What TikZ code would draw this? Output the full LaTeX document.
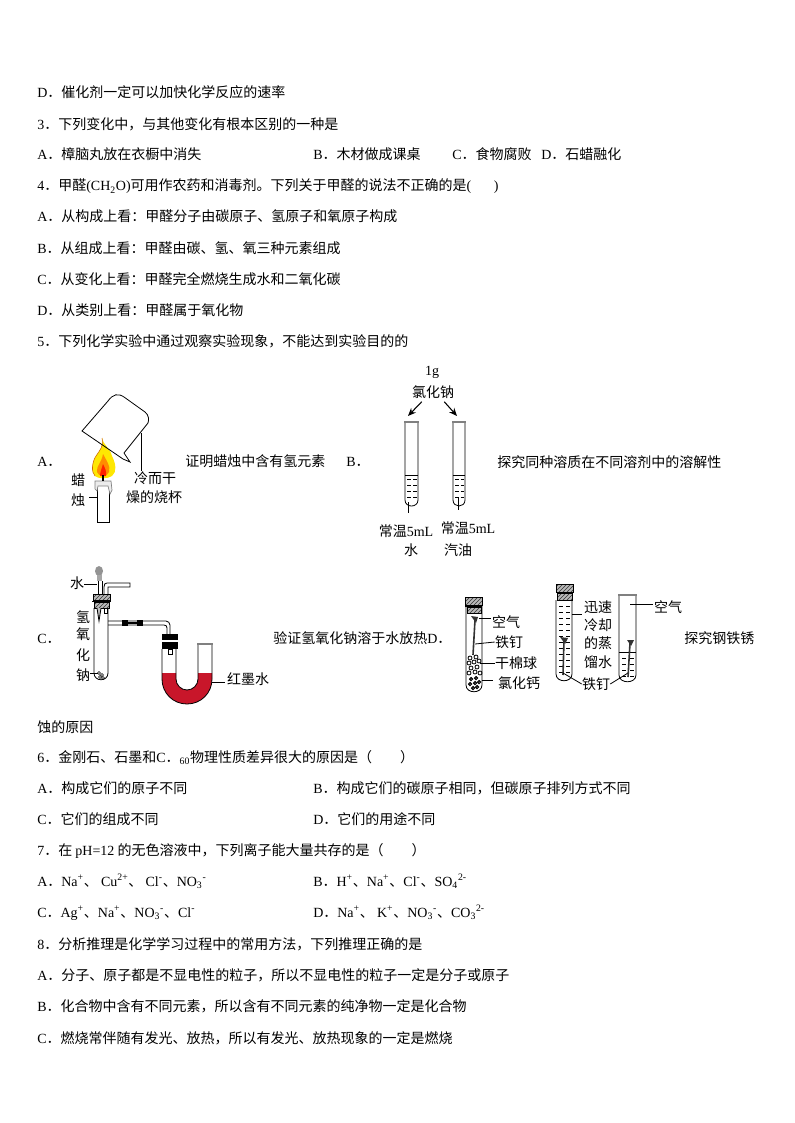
\documentclass[tikz,border=0pt]{standalone}
\usepackage{fontspec}
\setmainfont{Noto Sans CJK SC}
\newfontfamily\latn{Liberation Serif}
\newcommand{\Lt}[1]{{\latn #1}}
\newcommand{\Up}[1]{\textsuperscript{\latn #1}}
\newcommand{\Dn}[1]{\textsubscript{\latn #1}}
\usetikzlibrary{patterns,arrows.meta}
\definecolor{inkred}{RGB}{200,22,42}
\tikzset{
  txtrow/.style={anchor=base west,inner sep=0pt},
  lbl/.style={inner sep=0pt},
  lead/.style={line width=.6pt},
  glass/.style={line width=.6pt},
  rim/.style={line width=1.4pt,gray},
  plug/.style={draw=black,line width=.4pt,preaction={fill=gray!55},pattern=north east lines,pattern color=black!80},
  nail/.style={line width=1.2pt,black!80},
  waterline/.style={line width=.5pt},
  drop/.style={-{Stealth[length=6pt,width=5pt]},line width=.8pt}
}
\begin{document}
\begin{tikzpicture}[x=0.75pt,y=-0.75pt,font=\fontsize{10.5pt}{12pt}\selectfont]
\useasboundingbox (0,0) rectangle (794,1123);
% upper text
\node[txtrow] (q2d) at (37,97.5) {\Lt{D}．催化剂一定可以加快化学反应的速率};
\node[txtrow] (q3) at (37,129.5) {\Lt{3}．下列变化中，与其他变化有根本区别的一种是};
\node[txtrow] (q3a) at (37,160) {\Lt{A}．樟脑丸放在衣橱中消失};
\node[txtrow] (q3b) at (313,160) {\Lt{B}．木材做成课桌};
\node[txtrow] (q3c) at (452,160) {\Lt{C}．食物腐败};
\node[txtrow] (q3d) at (541,160) {\Lt{D}．石蜡融化};
\node[txtrow] (q4) at (37,191) {\Lt{4}．甲醛\Lt{(CH\Dn{2}O)}可用作农药和消毒剂。下列关于甲醛的说法不正确的是\Lt{(\hspace{1.6em})}};
\node[txtrow] (q4a) at (37,222) {\Lt{A}．从构成上看：甲醛分子由碳原子、氢原子和氧原子构成};
\node[txtrow] (q4b) at (37,253) {\Lt{B}．从组成上看：甲醛由碳、氢、氧三种元素组成};
\node[txtrow] (q4c) at (37,284) {\Lt{C}．从变化上看：甲醛完全燃烧生成水和二氧化碳};
\node[txtrow] (q4d) at (37,315) {\Lt{D}．从类别上看：甲醛属于氧化物};
\node[txtrow] (q5) at (37,346) {\Lt{5}．下列化学实验中通过观察实验现象，不能达到实验目的的};
% option A
\node[txtrow] (optA) at (37,466) {\Lt{A}．};
\node[txtrow] (txtA) at (185,466) {证明蜡烛中含有氢元素};
\fill[yellow!90!orange] (102,438) .. controls (104,446) and (110,448) .. (112,456) .. controls (116,464) and (117,472) .. (112,476) .. controls (108,479) and (98,479) .. (95,476)
  .. controls (91,472) and (92,462) .. (96,456) .. controls (100,450) and (104,446) .. (102,438);
\draw[line width=.4pt,orange!80!black] (95,476) .. controls (91,472) and (92,462) .. (96,456) .. controls (100,450) and (104,446) .. (102,438);
\fill[orange!90!yellow] (103,454) .. controls (106,460) and (111,466) .. (109,472) .. controls (108,477) and (98,477) .. (97,472) .. controls (96,466) and (102,462) .. (103,454);
\fill[red!75!orange] (103,464) .. controls (105,468) and (107,472) .. (106,476) -- (100,476) .. controls (100,472) and (102,468) .. (103,464);
\draw[glass] (82,431) -- (108,401) .. controls (113,394) and (118,393) .. (124,397)
  -- (145,412) .. controls (149,415) and (149,420) .. (148,423) -- (124,453) -- (130,462) -- (123,459) -- cycle;
\draw[glass,fill=white] (97,482) rectangle (109,522);
\draw[line width=.5pt,gray,fill=gray!15] (95,481) -- (111,481) -- (112,490) -- (110,494) -- (108,486) -- (98,486) -- (97,491) -- (95,489) -- cycle;
\draw[line width=1pt] (103,475) -- (103,481);
\coordinate (cupPt) at (141,433);
\node[lbl] (candleA) at (78,480) {蜡};
\node[lbl] (candleB) at (78,500) {烛};
\coordinate (candlePt) at (98,497);
\draw[lead] (candleB.east) ++(4,-3) coordinate (candleStart) (candleStart) -- (candlePt);
\node[lbl] (cupA) at (155,478) {冷而干};
\node[lbl] (cupB) at (154,497) {燥的烧杯};
\draw[lead] (cupPt) -- (cupA.north -| cupPt);
% option B
\node[txtrow] (optB) at (346,466) {\Lt{B}．};
\node[txtrow] (txtB) at (497,467) {探究同种溶质在不同溶剂中的溶解性};
\node[lbl] (gram) at (432,372) {\Lt{1g}};
\node[lbl] (salt) at (433,392) {氯化钠};
\coordinate (tubeLtop) at (408,416);
\coordinate (tubeRtop) at (457,416);
\draw[drop] (salt.south west) ++(10,3) -- (tubeLtop);
\draw[drop] (salt.south east) ++(-10,3) -- (tubeRtop);
\draw[glass] (405,422) -- (405,500) .. controls (405,508) and (418,508) .. (418,500) -- (418,422);
\draw[glass] (453,422) -- (453,500) .. controls (453,508) and (465,508) .. (465,500) -- (465,422);
\draw[rim] (404,422) -- (419,422);
\draw[rim] (452,422) -- (466,422);
\draw[waterline] (405,475) -- (418,475);
\draw[waterline] (453,475) -- (465,475);
\foreach \yy in {479,485,491,497} {
  \draw[waterline] (407,\yy) -- (410.5,\yy);
  \draw[waterline] (413,\yy) -- (416.5,\yy);
  \draw[waterline] (455,\yy) -- (458.5,\yy);
  \draw[waterline] (460.5,\yy) -- (464,\yy);
}
\node[lbl] (waterB) at (406,531) {常温\Lt{5mL}};
\node[lbl] (waterC) at (411,550) {水};
\node[lbl] (oilB) at (468,528) {常温\Lt{5mL}};
\node[lbl] (oilC) at (458,550) {汽油};
\coordinate (waterPt) at (408,502);
\coordinate (oilPt) at (458,498);
\draw[lead] (waterPt) -- (408,513);
\draw[lead] (oilPt) -- (458,510);
% option C
\node[txtrow] (optC) at (37,643) {\Lt{C}．};
\node[txtrow] (txtC) at (273,643) {验证氢氧化钠溶于水放热\Lt{D}．};
% flask with dropper
\draw[glass] (94,608) -- (94,673) .. controls (94,682) and (108,682) .. (108,673) -- (108,608);
\draw[plug] (93,594) rectangle (110,600);
\draw[plug] (94,602) rectangle (109,608);
\draw[line width=.6pt] (92,601) -- (111,601);
\fill[gray!85] (99,571) ellipse (4 and 5);
\fill[gray!70] (97,575) rectangle (102,581);
\draw[glass] (98,581) -- (98,594) (102,581) -- (102,594);
\draw[glass,fill=gray!50] (97,608) -- (99,621) -- (101,608);
\draw[glass] (104,594) -- (104,587) .. controls (104,584) and (105,583) .. (107,583) -- (130,583) -- (130,587) -- (108,587) -- (108,594);
\draw[glass] (104,608) rectangle (107,613);
\draw[glass] (108,621) -- (166,621) .. controls (168,621) and (170,623) .. (170,625) -- (170,634);
\draw[glass] (108,625) -- (164,625) .. controls (166,625) and (167,626) .. (167,628) -- (167,634);
\fill[black] (122,620) rectangle (128,626);
\fill[black] (137,620) rectangle (143,626);
\draw[line width=1.2pt] (128,623) -- (137,623);
% U tube
\fill[inkred] (162,673) -- (176,673) -- (176,679) .. controls (176,685) and (181,690) .. (187,690)
  .. controls (193,690) and (198,685) .. (198,679) -- (198,673) -- (212,673) -- (212,679)
  .. controls (212,693) and (201,704) .. (187,704) .. controls (173,704) and (162,693) .. (162,679) -- cycle;
\draw[glass] (162,649) -- (162,679) .. controls (162,693) and (173,704) .. (187,704)
  .. controls (201,704) and (212,693) .. (212,679) -- (212,644);
\draw[glass] (176,649) -- (176,679) .. controls (176,685) and (181,690) .. (187,690)
  .. controls (193,690) and (198,685) .. (198,679) -- (198,644);
\draw[rim] (197,644) -- (213,644);
\fill[black] (162,634) rectangle (178,640);
\fill[black] (162,642) rectangle (178,649);
\draw[glass] (168,649) rectangle (172,654);
% squiggle of solid
\foreach \xx/\yy in {99/673,102/675,100/677,103/678} {
  \draw[line width=.5pt] (\xx,\yy) circle (1.5);
}
\node[lbl] (lyeA) at (83,617) {氢};
\node[lbl] (lyeB) at (83,634) {氧};
\node[lbl] (lyeC) at (83,655) {化};
\node[lbl] (lyeD) at (83,675) {钠};
\coordinate (lyePt) at (98,673);
\draw[lead] (lyeD.east) ++(0,-2) coordinate (lyeStart) (lyeStart) -- (lyePt);
\node[lbl] (waterD) at (77,583) {水};
\coordinate (waterDPt) at (97,584);
\draw[lead] (waterD.east) ++(0,1) coordinate (waterDStart) (waterDStart) -- (waterDPt);
\node[lbl] (ink) at (248,679) {红墨水};
\coordinate (inkPt) at (212,682);
\draw[lead] (ink.west) ++(-2,3) coordinate (inkStart) (inkStart) -- (inkPt);
% option D, first tube
\draw[glass] (466,606) -- (466,685) .. controls (466,694) and (482,694) .. (482,685) -- (482,606);
\draw[plug] (465,597) rectangle (482,605);
\draw[plug] (467,607) rectangle (481,613);
\draw[line width=.6pt] (465,606) -- (482,606);
\draw[nail] (475,620) -- (473,655);
\fill[black!80] (471,616) -- (478,617) -- (476,623) -- cycle;
\foreach \xx/\yy in {470/658,476/657,469/663,474/662,479/661,471/668,477/667,469/673,475/672,480/673} {
  \draw[line width=.6pt] (\xx,\yy) circle (2);
}
\foreach \xx/\yy in {471/679,476/678,470/684,475/683,479/682,473/688,477/687} {
  \draw[line width=.8pt] (\xx,\yy) circle (1.5);
}
\node[lbl] (airA) at (506,622) {空气};
\node[lbl] (nailA) at (509,642) {铁钉};
\node[lbl] (cotton) at (516,663) {干棉球};
\node[lbl] (calcium) at (519,683) {氯化钙};
\coordinate (airAPt) at (479,618);
\coordinate (nailAPt) at (475,644);
\coordinate (cottonPt) at (480,663);
\coordinate (calciumPt) at (482,680);
\draw[lead] (airAPt) -- (491,618);
\draw[lead] (nailAPt) -- (nailA.west);
\draw[lead] (cottonPt) -- (cotton.west);
\draw[lead] (calciumPt) -- (493,680);
% option D, second tube
\draw[glass] (556,600) -- (556,674) .. controls (556,683) and (572,683) .. (572,674) -- (572,600);
\draw[plug] (556,584) rectangle (573,592);
\draw[plug] (557,593) rectangle (572,600);
\foreach \yy in {606,612,618,624,630,636,642,648,654,660,666,672} {
  \draw[waterline] (559,\yy) -- (563,\yy);
  \draw[waterline] (566,\yy) -- (570,\yy);
}
\draw[nail] (564,640) -- (563,675);
\fill[black!80] (560,637) -- (568,638) -- (565,644) -- cycle;
\node[lbl] (coolA) at (598,607) {迅速};
\node[lbl] (coolB) at (598,625) {冷却};
\node[lbl] (coolC) at (598,643) {的蒸};
\node[lbl] (coolD) at (598,662) {馏水};
\coordinate (coolPt) at (572,614);
\draw[lead] (coolPt) -- (582,614);
\node[lbl] (nailB) at (596,684) {铁钉};
\coordinate (nailBPt) at (563,673);
\coordinate (nailCPt) at (628,673);
\draw[lead] (nailB.west) -- (nailBPt);
\draw[lead] (nailB.east) -- (nailCPt);
% option D, third tube
\draw[glass] (619,595) -- (619,675) .. controls (619,684) and (636,684) .. (636,675) -- (636,595);
\draw[rim] (618,595) -- (637,595);
\draw[waterline] (619,652) -- (636,652);
\foreach \yy in {658,664,670,676} {
  \draw[waterline] (622,\yy) -- (626,\yy);
  \draw[waterline] (630,\yy) -- (634,\yy);
}
\draw[nail] (630,643) -- (628,677);
\fill[black!80] (627,640) -- (634,640) -- (631,646) -- cycle;
\node[lbl] (airB) at (668,607) {空气};
\coordinate (airBPt) at (630,604);
\draw[lead] (airBPt) -- (653,604);
\node[txtrow] (txtD) at (684,643) {探究钢铁锈};
% lower text
\node[txtrow] (q5e) at (37,732) {蚀的原因};
\node[txtrow] (q6) at (37,762) {\Lt{6}．金刚石、石墨和\Lt{C}．\Dn{60}物理性质差异很大的原因是（\hspace{2em}）};
\node[txtrow] (q6a) at (37,793) {\Lt{A}．构成它们的原子不同};
\node[txtrow] (q6b) at (313,793) {\Lt{B}．构成它们的碳原子相同，但碳原子排列方式不同};
\node[txtrow] (q6c) at (37,824) {\Lt{C}．它们的组成不同};
\node[txtrow] (q6d) at (313,824) {\Lt{D}．它们的用途不同};
\node[txtrow] (q7) at (37,855) {\Lt{7}．在 \Lt{pH=12} 的无色溶液中，下列离子能大量共存的是（\hspace{2em}）};
\node[txtrow] (q7a) at (37,886) {\Lt{A}．\Lt{Na}\Up{+}、 \Lt{Cu}\Up{2+}、 \Lt{Cl}\Up{-}、\Lt{NO}\Dn{3}\Up{-}};
\node[txtrow] (q7b) at (313,886) {\Lt{B}．\Lt{H}\Up{+}、\Lt{Na}\Up{+}、\Lt{Cl}\Up{-}、\Lt{SO}\Dn{4}\Up{2-}};
\node[txtrow] (q7c) at (37,917) {\Lt{C}．\Lt{Ag}\Up{+}、\Lt{Na}\Up{+}、\Lt{NO}\Dn{3}\Up{-}、\Lt{Cl}\Up{-}};
\node[txtrow] (q7d) at (313,917) {\Lt{D}．\Lt{Na}\Up{+}、 \Lt{K}\Up{+}、\Lt{NO}\Dn{3}\Up{-}、\Lt{CO}\Dn{3}\Up{2-}};
\node[txtrow] (q8) at (37,949) {\Lt{8}．分析推理是化学学习过程中的常用方法，下列推理正确的是};
\node[txtrow] (q8a) at (37,980) {\Lt{A}．分子、原子都是不显电性的粒子，所以不显电性的粒子一定是分子或原子};
\node[txtrow] (q8b) at (37,1011) {\Lt{B}．化合物中含有不同元素，所以含有不同元素的纯净物一定是化合物};
\node[txtrow] (q8c) at (37,1043) {\Lt{C}．燃烧常伴随有发光、放热，所以有发光、放热现象的一定是燃烧};
\end{tikzpicture}
\end{document}
